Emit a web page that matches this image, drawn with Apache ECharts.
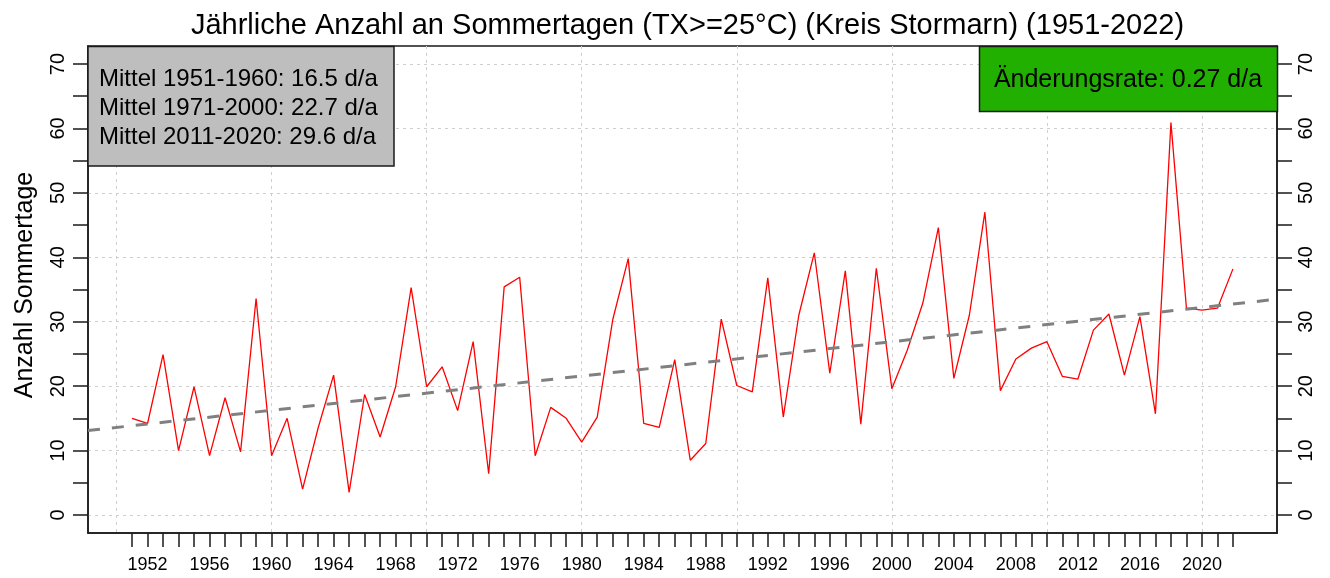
<!DOCTYPE html>
<html>
<head>
<meta charset="utf-8">
<title>Sommertage Stormarn</title>
<script src="https://cdn.jsdelivr.net/npm/echarts@6/dist/echarts.min.js"></script>
<style>
  html, body { margin: 0; padding: 0; background: #fff; }
  #main { width: 1330px; height: 578px; }
</style>
</head>
<body>
<div id="main"></div>
<script>
// Jahre 1951-2022
var years = [];
for (var y = 1951; y <= 2022; y++) years.push(y);

// Anzahl Sommertage pro Jahr
var sommertage = [
    15.0, 14.2, 24.9, 10.0, 19.9, 9.2, 18.2, 9.8, 33.6, 9.2,      // 1951-1960
    15.0, 4.0, 13.5, 21.7, 3.5, 18.7, 12.1, 19.9, 35.3, 19.9,     // 1961-1970
    23.0, 16.2, 26.9, 6.4, 35.4, 36.9, 9.2, 16.7, 15.0, 11.3,     // 1971-1980
    15.2, 30.3, 39.8, 14.2, 13.6, 24.1, 8.5, 11.1, 30.4, 20.1,    // 1981-1990
    19.1, 36.8, 15.2, 31.0, 40.7, 22.0, 37.9, 14.1, 38.3, 19.6,   // 1991-2000
    25.6, 32.9, 44.6, 21.2, 31.0, 47.0, 19.3, 24.2, 25.9, 26.9,   // 2001-2010
    21.5, 21.1, 28.7, 31.2, 21.7, 30.8, 15.7, 60.9, 32.1, 31.8,   // 2011-2020
    32.1, 38.2                                                    // 2021-2022
];

// Trendlinie (Endpunkte am Rand der Grafik)
var trendJahre = [1948.16, 2024.84];
var trendWerte = [13.1, 33.5];

// Achsenbeschriftungen und Gitter
var xTickJahre = years;
var xLabelJahre = [1952, 1956, 1960, 1964, 1968, 1972, 1976, 1980, 1984, 1988,
                   1992, 1996, 2000, 2004, 2008, 2012, 2016, 2020];
var xGitterJahre = [1950, 1960, 1970, 1980, 1990, 2000, 2010, 2020];
var yTicks = [0, 5, 10, 15, 20, 25, 30, 35, 40, 45, 50, 55, 60, 65, 70];
var yLabels = [0, 10, 20, 30, 40, 50, 60, 70];

var mittelTexte = [
    'Mittel 1951-1960: 16.5 d/a',
    'Mittel 1971-2000: 22.7 d/a',
    'Mittel 2011-2020: 29.6 d/a'
];
var rateText = 'Änderungsrate: 0.27 d/a';

var font = "'Liberation Sans', Arial, sans-serif";
var gitter = { show: true, lineStyle: { color: '#cfcfcf', type: [3, 4], width: 1 } };

var myChart = echarts.init(document.getElementById('main'));

var linienDaten = years.map(function (j, i) { return [j, sommertage[i]]; });
var trendDaten = trendJahre.map(function (j, i) { return [j, trendWerte[i]]; });

var option = {
    animation: false,
    backgroundColor: '#fff',
    title: {
        text: 'Jährliche Anzahl an Sommertagen (TX>=25°C) (Kreis Stormarn) (1951-2022)',
        left: 682.5,
        textAlign: 'center',
        top: 6,
        textStyle: { fontFamily: font, fontSize: 29, fontWeight: 'normal', color: '#000' }
    },
    grid: {
        left: 88, right: 53, top: 46, bottom: 45,
        show: true,
        borderColor: '#1a1a1a',
        borderWidth: 1.5
    },
    xAxis: [
        {
            type: 'value',
            min: 1948.16,
            max: 2024.84,
            position: 'bottom',
            axisLine: { show: true, onZero: false, lineStyle: { color: '#1a1a1a', width: 1.5 } },
            axisTick: { show: true, length: 14, customValues: xTickJahre, lineStyle: { color: '#1a1a1a', width: 1.5 } },
            axisLabel: {
                customValues: xLabelJahre,
                margin: 23,
                formatter: function (v) { return String(v); },
                fontFamily: font, fontSize: 18, color: '#000'
            },
            splitLine: { show: false }
        },
        {   // nur für die senkrechten Gitterlinien
            type: 'value',
            min: 1948.16,
            max: 2024.84,
            position: 'top',
            axisLine: { show: false },
            axisTick: { show: false, customValues: xGitterJahre },
            axisLabel: { show: false },
            splitLine: gitter
        }
    ],
    yAxis: [
        {
            type: 'value',
            min: -2.8,
            max: 72.8,
            position: 'left',
            axisLine: { show: true, onZero: false, lineStyle: { color: '#1a1a1a', width: 1.5 } },
            axisTick: { show: true, length: 15, customValues: yTicks, lineStyle: { color: '#1a1a1a', width: 1.5 } },
            axisLabel: {
                customValues: yLabels,
                rotate: 90,
                margin: 20,
                fontFamily: font, fontSize: 20, color: '#000'
            },
            splitLine: { show: false }
        },
        {
            type: 'value',
            min: -2.8,
            max: 72.8,
            position: 'right',
            axisLine: { show: true, onZero: false, lineStyle: { color: '#1a1a1a', width: 1.5 } },
            axisTick: { show: true, length: 15, customValues: yTicks, lineStyle: { color: '#1a1a1a', width: 1.5 } },
            axisLabel: {
                customValues: yLabels,
                rotate: 90,
                margin: 19,
                fontFamily: font, fontSize: 20, color: '#000'
            },
            splitLine: { show: false }
        },
        {   // nur für die waagerechten Gitterlinien
            type: 'value',
            min: -2.8,
            max: 72.8,
            position: 'left',
            axisLine: { show: false },
            axisTick: { show: false, customValues: yLabels },
            axisLabel: { show: false },
            splitLine: gitter
        }
    ],
    series: [
        {
            name: 'Sommertage',
            type: 'line',
            data: linienDaten,
            symbol: 'none',
            z: 3,
            lineStyle: { color: '#ff0000', width: 1.3 }
        },
        {
            name: 'Trend',
            type: 'line',
            data: trendDaten,
            symbol: 'none',
            z: 4,
            lineStyle: { color: '#808080', width: 3, type: [12, 12] }
        }
    ],
    graphic: [
        {   // y-Achsentitel
            type: 'text',
            x: 25, y: 285,
            rotation: Math.PI / 2,
            z: 100,
            style: {
                text: 'Anzahl Sommertage',
                fontFamily: font, fontSize: 25, fill: '#000',
                textAlign: 'center', textVerticalAlign: 'middle'
            }
        },
        {   // Mittelwerte
            type: 'rect',
            z: 100,
            shape: { x: 88, y: 46.5, width: 306, height: 119.5 },
            style: { fill: '#bebebe', stroke: '#1a1a1a', lineWidth: 1.5 }
        },
        {
            type: 'text',
            z: 101,
            x: 99, y: 79,
            style: { text: mittelTexte[0], fontFamily: font, fontSize: 24, fill: '#000', textVerticalAlign: 'middle' }
        },
        {
            type: 'text',
            z: 101,
            x: 99, y: 108,
            style: { text: mittelTexte[1], fontFamily: font, fontSize: 24, fill: '#000', textVerticalAlign: 'middle' }
        },
        {
            type: 'text',
            z: 101,
            x: 99, y: 137,
            style: { text: mittelTexte[2], fontFamily: font, fontSize: 24, fill: '#000', textVerticalAlign: 'middle' }
        },
        {   // Änderungsrate
            type: 'rect',
            z: 100,
            shape: { x: 979.5, y: 46.5, width: 298, height: 65 },
            style: { fill: '#22b000', stroke: '#1a1a1a', lineWidth: 1.5 }
        },
        {
            type: 'text',
            z: 101,
            x: 1128, y: 80,
            style: { text: rateText, fontFamily: font, fontSize: 25, fill: '#000', textAlign: 'center', textVerticalAlign: 'middle' }
        }
    ]
};

myChart.setOption(option);
</script>
</body>
</html>
